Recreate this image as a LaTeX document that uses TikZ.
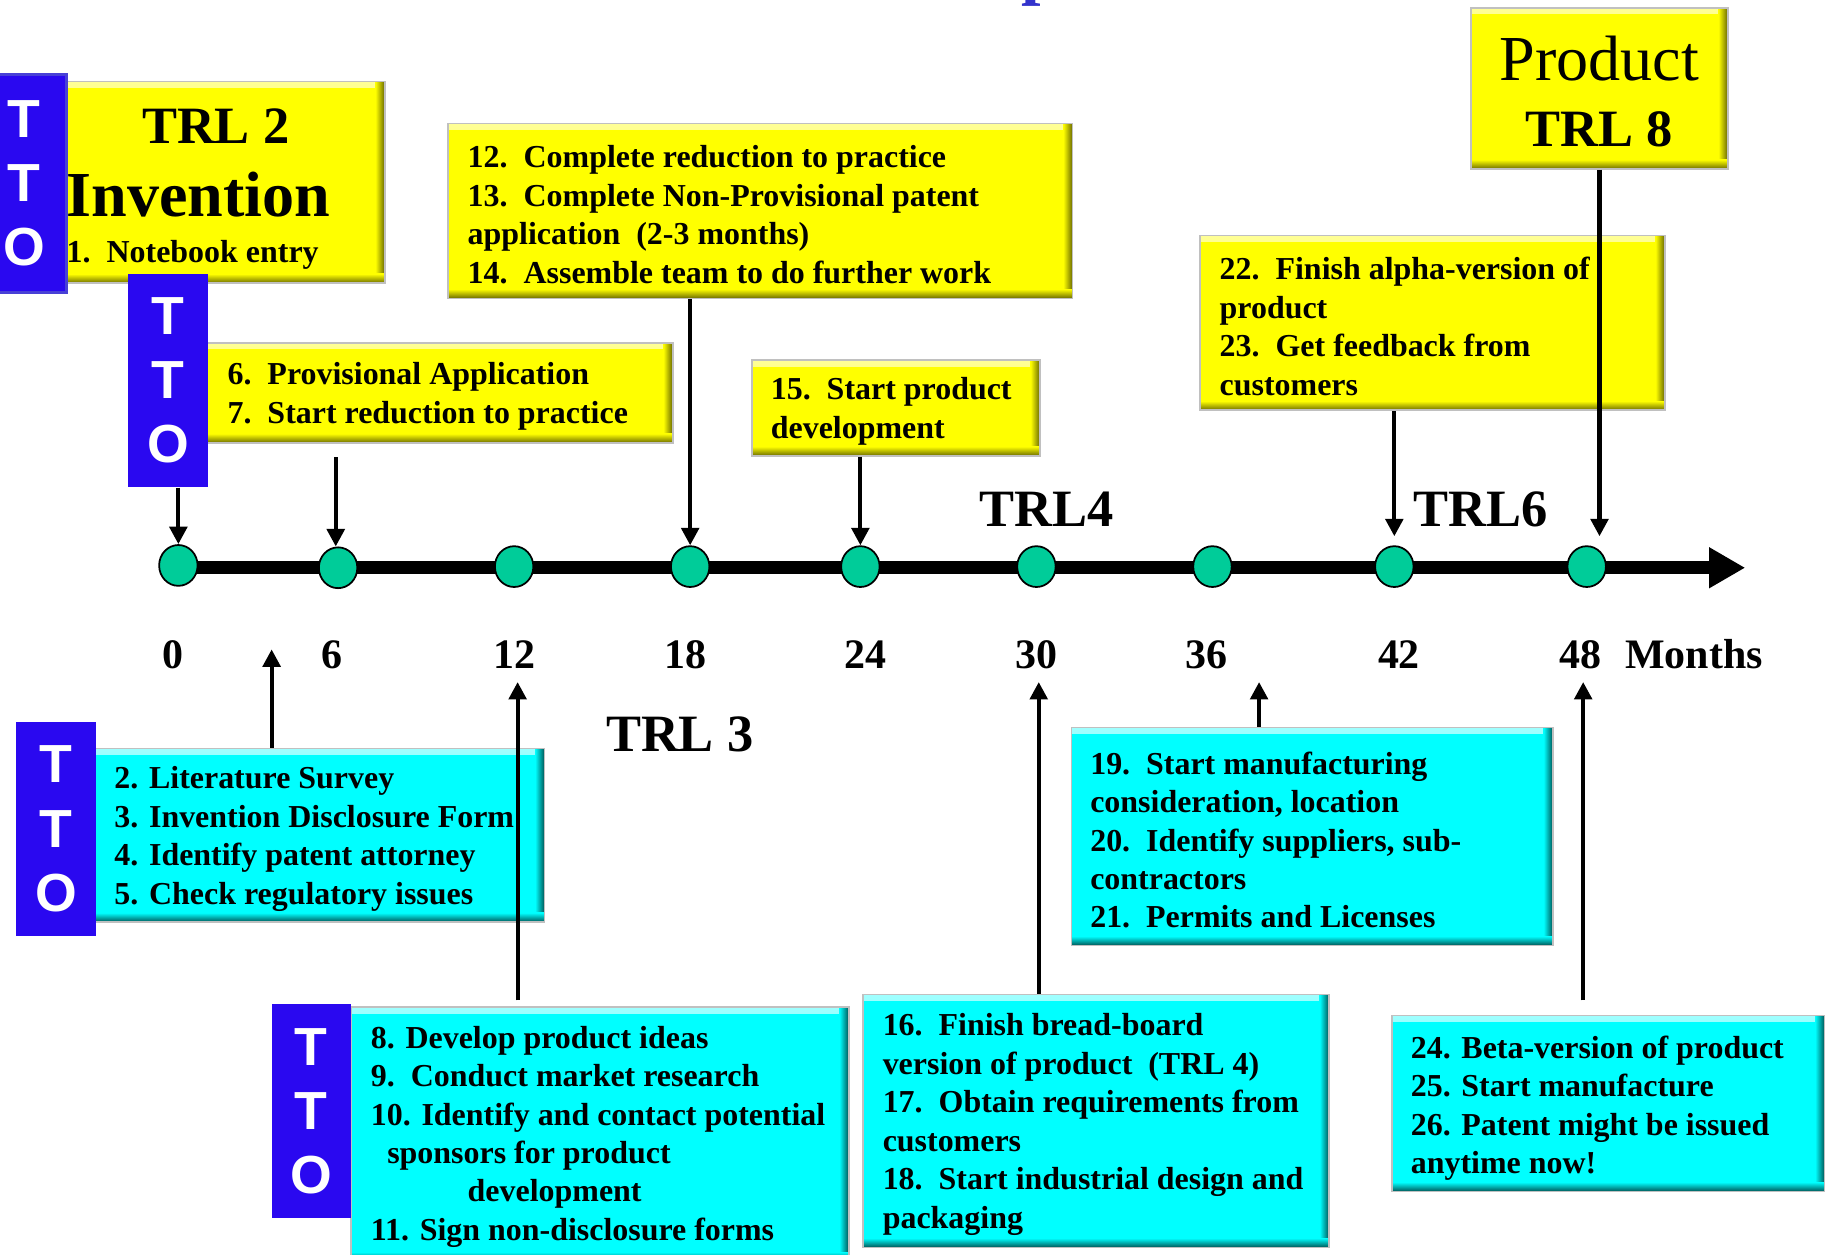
\documentclass[tikz,border=0pt]{standalone}
\usepackage{fontspec}
\setmainfont{Liberation Serif}
\newfontfamily\ttofont{Liberation Sans}
\usetikzlibrary{arrows.meta,shapes.geometric,calc}

\definecolor{ttoblue}{RGB}{42,8,240}
\definecolor{ttoedge}{RGB}{72,64,214}
\definecolor{ybase}{RGB}{255,255,0}
\definecolor{ydark}{RGB}{105,105,0}
\definecolor{ylight}{RGB}{255,255,150}
\definecolor{cbase}{RGB}{0,255,255}
\definecolor{cdark}{RGB}{0,85,85}
\definecolor{clight}{RGB}{160,255,255}
\definecolor{dotgreen}{RGB}{0,204,153}
\definecolor{rim}{RGB}{192,192,192}
\definecolor{titleblue}{RGB}{51,51,204}

\tikzset{
  bevel/.style n args={3}{fill=#1, draw=rim, line width=1.5pt, inner sep=0pt,
    path picture={
      \shade[top color=#3, bottom color=#1] (path picture bounding box.north west) rectangle ($(path picture bounding box.north east)+(0,-5pt)$);
      \shade[left color=#1, right color=#2] ($(path picture bounding box.north east)+(-8pt,0)$) rectangle (path picture bounding box.south east);
      \shade[top color=#1, bottom color=#2] ($(path picture bounding box.south west)+(0,8pt)$) rectangle (path picture bounding box.south east);
    }},
  ybox/.style={bevel={ybase}{ydark}{ylight}},
  cbox/.style={bevel={cbase}{cdark}{clight}},
  tto/.style={fill=ttoblue, inner sep=0pt, text=white, align=center,
    font=\ttofont\bfseries\fontsize{46}{55}\selectfont},
  txt/.style={inner sep=0pt, align=left, anchor=west, yshift=-3pt,
    font=\fontsize{27.4}{33}\selectfont\bfseries},
  big/.style={inner sep=0pt, font=\fontsize{45}{50}\selectfont\bfseries},
  month/.style={inner sep=0pt, anchor=base, font=\fontsize{36}{40}\selectfont\bfseries},
  dot/.style={ellipse, fill=dotgreen, draw=black, line width=1.5pt,
    minimum width=33pt, minimum height=35pt, inner sep=0pt},
  timeline/.style={line width=11pt, -{Triangle[length=31pt,width=33pt]}},
  arr/.style={line width=3.6pt, -{Triangle[length=15pt,width=15pt]}},
}

\begin{document}
\begin{tikzpicture}[x=1pt,y=-1pt]
\useasboundingbox[fill=white] (0,0) rectangle (1568,1076);

% cut-off title fragment
\node[inner sep=0pt, anchor=base west, text=titleblue,
  font=\fontsize{60}{60}\selectfont\bfseries] (ttl) at (876,-7) {p};

% ---------- upper boxes ----------
\node[ybox, minimum width=273pt, minimum height=173pt] (b1) at (193.5,156.5) {};
\node[ybox, minimum width=399pt, minimum height=86pt] (b67) at (377.5,337) {};
\node[ybox, minimum width=536pt, minimum height=150pt] (b1214) at (652,181) {};
\node[ybox, minimum width=247pt, minimum height=82pt] (b15) at (768.5,350) {};
\node[ybox, minimum width=399pt, minimum height=150pt] (b2223) at (1228.5,277) {};
\node[ybox, minimum width=220pt, minimum height=138pt] (bprod) at (1372,76) {};

% ---------- lower boxes ----------
\node[cbox, minimum width=385pt, minimum height=149pt] (b25) at (274.5,716.5) {};
\node[cbox, minimum width=427pt, minimum height=218pt] (b811) at (514.5,973) {};
\node[cbox, minimum width=400pt, minimum height=217pt] (b1618) at (940,961.5) {};
\node[cbox, minimum width=413pt, minimum height=187pt] (b1921) at (1125.5,717.5) {};
\node[cbox, minimum width=371pt, minimum height=151pt] (b2426) at (1379.5,946.5) {};

% ---------- TTO tags ----------
\node[tto, draw=ttoedge, line width=2.5pt, minimum width=73pt, minimum height=187pt] (ttoA) at (20.5,157.5) {T\\T\\O};
\node[tto, minimum width=68pt, minimum height=183pt] (ttoB) at (144,326.5) {T\\T\\O};
\node[tto, minimum width=68pt, minimum height=184pt] (ttoC) at (48,711) {T\\T\\O};
\node[tto, minimum width=68pt, minimum height=184pt] (ttoD) at (267,953) {T\\T\\O};

% ---------- texts in boxes ----------
\node[big, anchor=base] (t1a) at (185,123) {TRL 2};
\node[inner sep=0pt, anchor=base west, font=\fontsize{55}{60}\selectfont\bfseries] (t1b) at (57,186) {Invention};
\node[inner sep=0pt, anchor=base west, font=\fontsize{27.4}{33}\selectfont\bfseries] (t1c) at (57,225) {1.\ \ Notebook entry};

\node[txt] (t67) at (195,337) {6.\ \ Provisional Application\\7.\ \ Start reduction to practice};
\node[txt] (t1214) at (401,181) {12.\ \ Complete reduction to practice\\13.\ \ Complete Non-Provisional patent\\application\ \ (2-3 months)\\14.\ \ Assemble team to do further work};
\node[txt] (t15) at (661,350) {15.\ \ Start product\\development};
\node[txt] (t2223) at (1046,277) {22.\ \ Finish alpha-version of\\product\\23.\ \ Get feedback from\\customers};
\node[inner sep=0pt, anchor=base, font=\fontsize{55}{60}\selectfont] (tp1) at (1372,69) {Product};
\node[big, anchor=base] (tp2) at (1372,126) {TRL 8};

\node[txt] (t25) at (98,716.5) {2. Literature Survey\\3. Invention Disclosure Form\\4. Identify patent attorney\\5. Check regulatory issues};
\node[txt] (t811) at (318,972) {8. Develop product ideas\\9.\ \ Conduct market research\\10. Identify and contact potential\\\hspace*{14pt}sponsors for product\\\hspace*{83pt}development\\11. Sign non-disclosure forms};
\node[txt] (t1618) at (757,961.5) {16.\ \ Finish bread-board\\version of product\ \ (TRL 4)\\17.\ \ Obtain requirements from\\customers\\18.\ \ Start industrial design and\\packaging};
\node[txt] (t1921) at (935,717.5) {19.\ \ Start manufacturing\\consideration, location\\20.\ \ Identify suppliers, sub-\\contractors\\21.\ \ Permits and Licenses};
\node[txt] (t2426) at (1210,947.5) {24. Beta-version of product\\25. Start manufacture\\26. Patent might be issued\\anytime now!};

% ---------- timeline ----------
\coordinate (tstart) at (153,487);
\coordinate (tend) at (1497,487);
\draw[timeline] (tstart) -- (tend);
\node[dot] (d0) at (153,485) {};
\node[dot] (d6) at (290,487) {};
\node[dot] (d12) at (441,486) {};
\node[dot] (d18) at (592,486) {};
\node[dot] (d24) at (738,486) {};
\node[dot] (d30) at (889,486) {};
\node[dot] (d36) at (1040,486) {};
\node[dot] (d42) at (1196,486) {};
\node[dot] (d48) at (1361,486) {};

% ---------- labels ----------
\node[month] (m0) at (148,573) {0};
\node[month] (m6) at (285,573) {6};
\node[month] (m12) at (441,573) {12};
\node[month] (m18) at (588,573) {18};
\node[month] (m24) at (742,573) {24};
\node[month] (m30) at (889,573) {30};
\node[month] (m36) at (1035,573) {36};
\node[month] (m42) at (1200,573) {42};
\node[month] (m48) at (1356,573) {48};
\node[month] (mm) at (1453,573) {Months};

\node[big, anchor=base] (trl4) at (898,452) {TRL4};
\node[big, anchor=base] (trl6) at (1270,452) {TRL6};
\node[big, anchor=base] (trl3) at (583,645) {TRL 3};

% ---------- down arrows ----------
\draw[arr] (ttoB.south -| d0) -- (d0.north);
\coordinate (a6s) at (288,392);
\draw[arr] (a6s) -- (a6s |- d6.north);
\draw[arr] (b1214.south -| d18) -- (d18.north);
\draw[arr] (b15.south -| d24) -- (d24.north);
\coordinate (a42e) at (1196,460);
\draw[arr] (b2223.south -| a42e) -- (a42e);
\coordinate (a48e) at (1372,460);
\draw[arr] (bprod.south) -- (a48e);

% ---------- up arrows ----------
\coordinate (u3e) at (233,557);
\draw[arr] (b25.north -| u3e) -- (u3e);
\coordinate (u12s) at (444,858);
\coordinate (u12e) at (444,585);
\draw[arr] (u12s) -- (u12e);
\coordinate (u30e) at (891,585);
\draw[arr] (b1618.north -| u30e) -- (u30e);
\coordinate (u36e) at (1080,585);
\draw[arr] (b1921.north -| u36e) -- (u36e);
\coordinate (u48s) at (1358,858);
\coordinate (u48e) at (1358,585);
\draw[arr] (u48s) -- (u48e);
\end{tikzpicture}
\end{document}
